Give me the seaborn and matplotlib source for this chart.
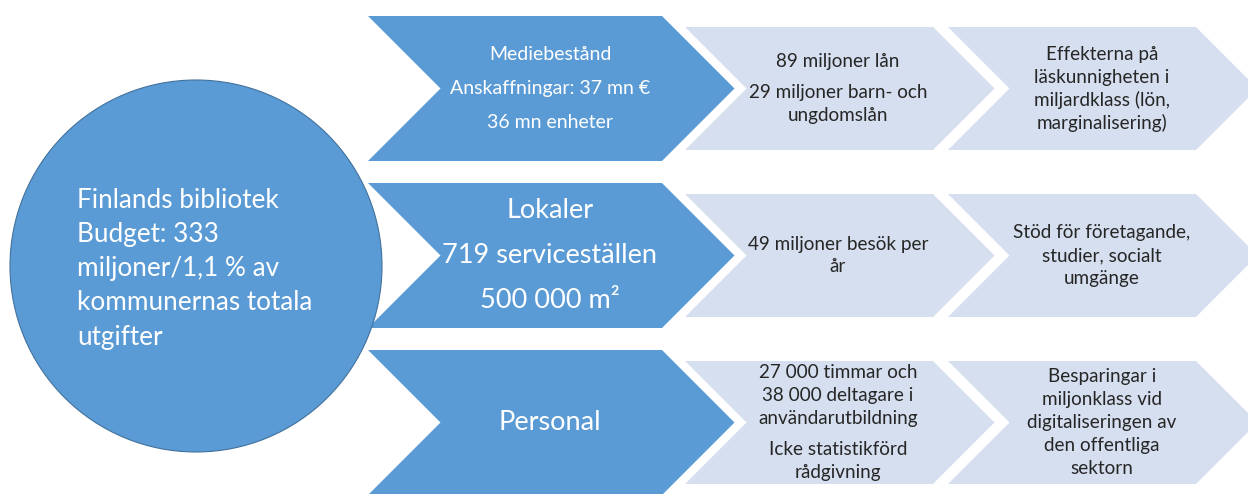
import matplotlib
matplotlib.use('Agg')
import matplotlib.pyplot as plt
from matplotlib.patches import Polygon, Circle
import seaborn as sns

sns.set_theme(style='white')
plt.rcParams['font.family'] = ['Lato', 'DejaVu Sans']

# texts of the diagram
circle_lines = ['Finlands bibliotek', 'Budget: 333', 'miljoner/1,1 % av',
                'kommunernas totala', 'utgifter']

resource_lines = [
    ['Mediebestånd', 'Anskaffningar: 37 mn €', '36 mn enheter'],
    ['Lokaler', '719 serviceställen', '500 000 m²'],
    ['Personal'],
]

# each box: list of paragraphs, each paragraph a list of lines
output_paras = [
    [['89 miljoner lån'], ['29 miljoner barn- och', 'ungdomslån']],
    [['49 miljoner besök per', 'år']],
    [['27 000 timmar och', '38 000 deltagare i', 'användarutbildning'],
     ['Icke statistikförd', 'rådgivning']],
]

effect_paras = [
    [['Effekterna på', 'läskunnigheten i', 'miljardklass (lön,', 'marginalisering)']],
    [['Stöd för företagande,', 'studier, socialt', 'umgänge']],
    [['Besparingar i', 'miljonklass vid', 'digitaliseringen av', 'den offentliga', 'sektorn']],
]

DARK = '#5B9BD5'
LIGHT = '#D6DFEF'
TXT = '#262626'

W, H = 1248, 494
row_tops = [16, 183, 350]
dark_h = 145
light_h = 123
dark_font = [14, 19.5, 19.5]
dark_step = [34, 45, 45]
light_font = 13.6


def chevron(ax, x0, x1, top, h, color, z=1):
    d = h / 2
    pts = [(x0, top), (x1, top), (x1 + d, top + h / 2), (x1, top + h),
           (x0, top + h), (x0 + d, top + h / 2)]
    ax.add_patch(Polygon(pts, closed=True, facecolor=color, edgecolor='none', zorder=z))


def para_text(ax, xc, yc, paras, size, step, gap, color):
    n_lines = sum(len(p) for p in paras)
    total = (n_lines - 1) * step + (len(paras) - 1) * gap
    y = yc - total / 2
    for p in paras:
        for line in p:
            ax.text(xc, y, line, ha='center', va='center', fontsize=size, color=color, zorder=5)
            y += step
        y += gap


fig = plt.figure(figsize=(W / 100, H / 100), dpi=100)
ax = fig.add_axes([0, 0, 1, 1])
ax.set_xlim(0, W)
ax.set_ylim(H, 0)
ax.axis('off')

for i, top in enumerate(row_tops):
    # resource chevron
    chevron(ax, 368, 662, top, dark_h, DARK, z=2)
    yc = top + dark_h / 2
    n = len(resource_lines[i])
    for j, line in enumerate(resource_lines[i]):
        ax.text(550, yc + (j - (n - 1) / 2) * dark_step[i], line, ha='center', va='center',
                fontsize=dark_font[i], color='white', zorder=5)
    # output and effect chevrons
    ltop = top + (dark_h - light_h) / 2
    chevron(ax, 685, 933, ltop, light_h, LIGHT, z=1)
    chevron(ax, 948, 1196, ltop, light_h, LIGHT, z=1)
    para_text(ax, 838, yc, output_paras[i], light_font, 22.8, 8, TXT)
    para_text(ax, 1102, yc, effect_paras[i], light_font, 22.8, 8, TXT)

ax.add_patch(Circle((196, 266), 186, facecolor=DARK, edgecolor='#41719C', lw=0.8, zorder=3))
for k, line in enumerate(circle_lines):
    ax.text(77, 200 + k * 34.3, line, ha='left', va='center', fontsize=18.8,
            color='white', zorder=5)

fig.savefig('out.png', dpi=100, facecolor='white')
